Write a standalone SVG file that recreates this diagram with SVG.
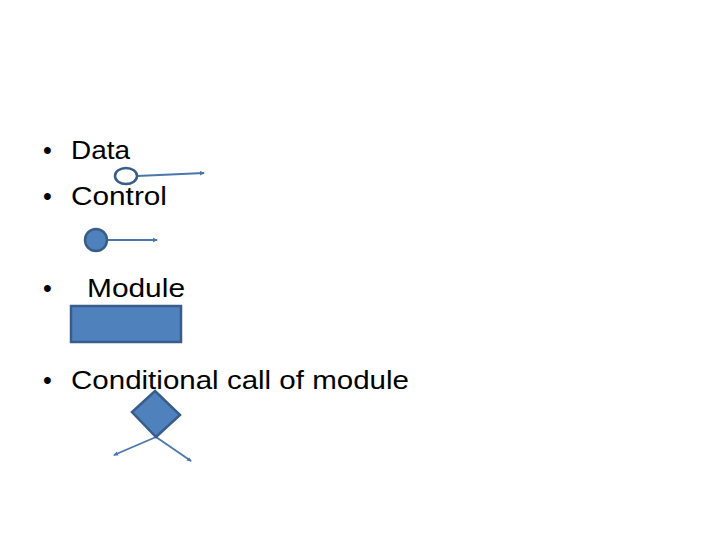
<svg xmlns="http://www.w3.org/2000/svg" width="720" height="540" viewBox="0 0 720 540">
<style>
.t{font-family:"Liberation Sans","DejaVu Sans",sans-serif;font-size:26px;fill:#000}
.b{font-family:"Liberation Sans","DejaVu Sans",sans-serif;font-size:25px;fill:#000}
.shape{fill:#4f81bd;stroke:#385d8a;stroke-width:2.5}
.line{stroke:#4a76ad;stroke-width:1.8;fill:none}
</style>
<defs>
<marker id="arr" markerWidth="6" markerHeight="6" refX="4" refY="3" orient="auto" markerUnits="userSpaceOnUse">
<path d="M0,0.8 L5,3 L0,5.2 Z" fill="#4a76ad"/>
</marker>
</defs>
<rect width="720" height="540" fill="#fff"/>
<g id="text">
<text class="b" x="43" y="159">•</text>
<text class="t" x="71" y="159" textLength="59" lengthAdjust="spacingAndGlyphs">Data</text>
<text class="b" x="43" y="205">•</text>
<text class="t" x="71" y="205" textLength="96" lengthAdjust="spacingAndGlyphs">Control</text>
<text class="b" x="43" y="297">•</text>
<text class="t" x="87" y="297" textLength="98" lengthAdjust="spacingAndGlyphs">Module</text>
<text class="b" x="43" y="389">•</text>
<text class="t" x="71" y="389" textLength="338" lengthAdjust="spacingAndGlyphs">Conditional call of module</text>
</g>
<g id="connectors">
<line class="line" x1="137" y1="176" x2="204" y2="173" marker-end="url(#arr)"/>
<line class="line" x1="107" y1="240" x2="157" y2="240" marker-end="url(#arr)"/>
<line class="line" x1="156" y1="437" x2="114" y2="455" marker-end="url(#arr)"/>
<line class="line" x1="156" y1="437" x2="191" y2="461" marker-end="url(#arr)"/>
</g>
<g id="data-node"><ellipse cx="126" cy="176" rx="11" ry="8" fill="#fff" stroke="#385d8a" stroke-width="2.5"/></g>
<g id="control-node"><circle class="shape" cx="96" cy="240" r="11"/></g>
<g id="module-node"><rect class="shape" x="71" y="306" width="110" height="36"/></g>
<g id="conditional-node"><polygon class="shape" points="155,391 180,415 156,437 132,412"/></g>
</svg>
